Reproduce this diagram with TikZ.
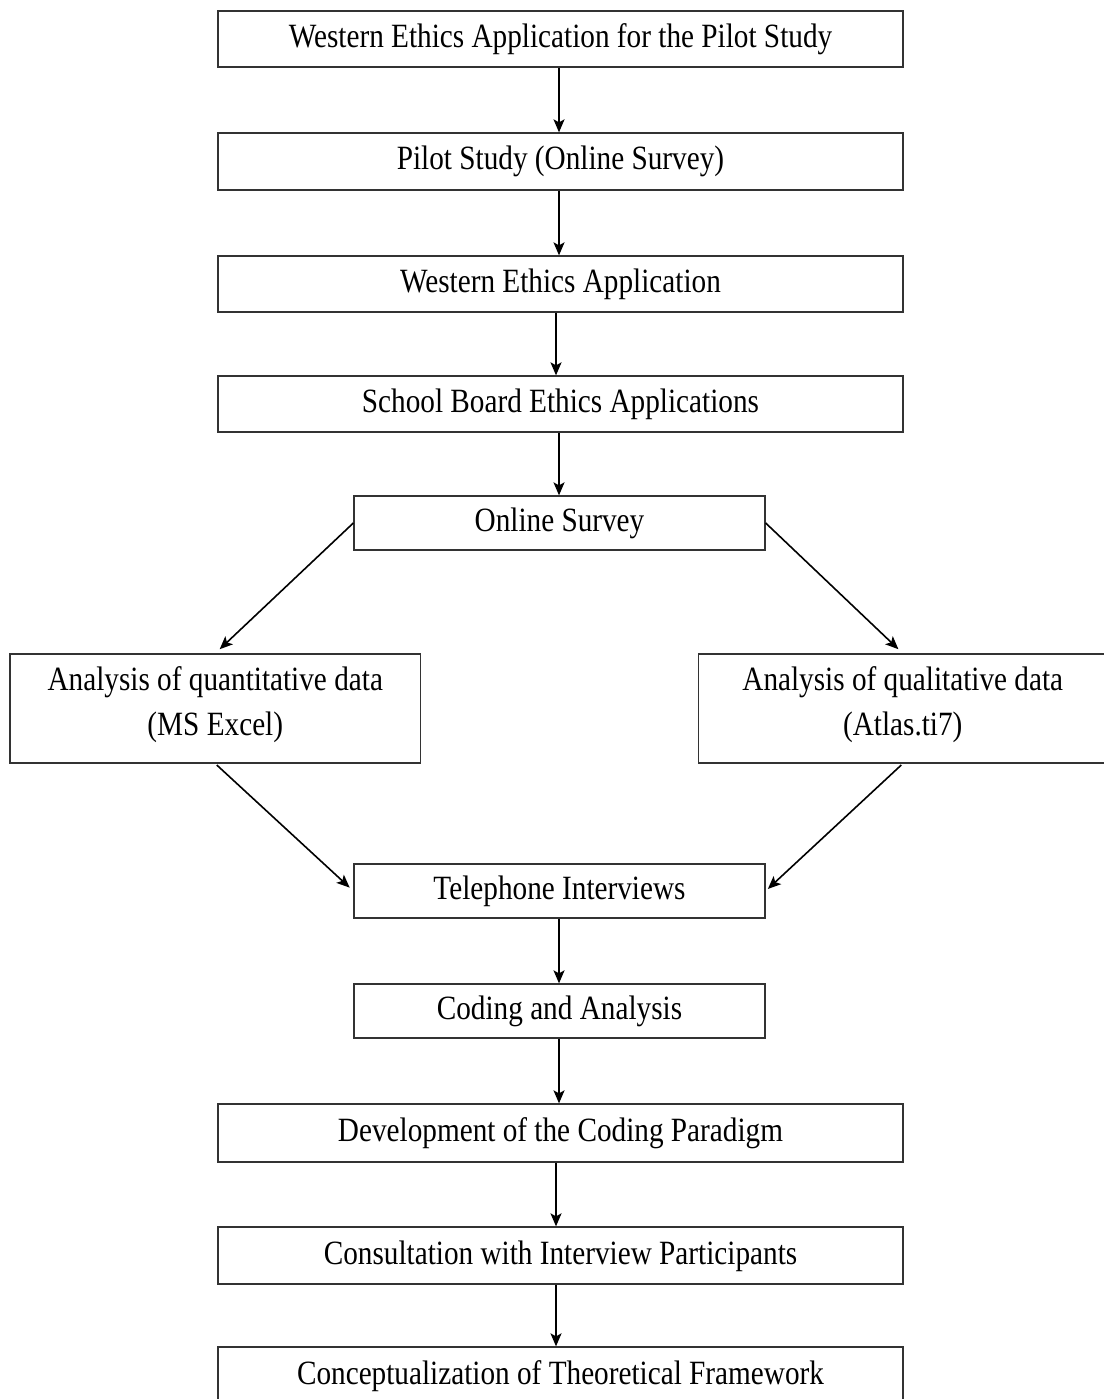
\documentclass[tikz,border=0pt]{standalone}
\usepackage{fontspec}
\setmainfont[FakeStretch=0.86]{Liberation Serif}
\usetikzlibrary{arrows.meta}
\newcommand{\lowstrut}{\rule[-15pt]{0pt}{15pt}}
\begin{document}
\begin{tikzpicture}[x=1pt,y=-1pt,
  basebox/.style={draw=black!80,line width=1.3pt,inner sep=0pt,align=center,
    font=\fontsize{34}{45}\selectfont},
  box/.style={basebox,text height=26pt,text depth=9pt},
  wide/.style={box,minimum width=685pt},
  narrow/.style={box,minimum width=411pt},
  twoline/.style={basebox,minimum height=109pt},
  arr/.style={line width=1.6pt,-{Stealth[length=13pt,width=11pt,inset=3pt]}}]
\useasboundingbox (0,0) rectangle (1103,1399);
\node[wide,minimum height=56pt] (b1) at (560.5,39) {Western Ethics Application for the Pilot Study};
\node[wide,minimum height=57pt] (b2) at (560.5,161.5) {Pilot Study (Online Survey)};
\node[wide,minimum height=56pt] (b3) at (560.5,284) {Western Ethics Application};
\node[wide,minimum height=56pt] (b4) at (560.5,404) {School Board Ethics Applications};
\node[narrow,minimum height=54pt] (os) at (559.5,523) {Online Survey};
\node[twoline,minimum width=410.6pt] (qa) at (215.3,708.5) {Analysis of quantitative data\\(MS Excel)\lowstrut};
\node[twoline,minimum width=408.5pt] (qb) at (902.75,708.5) {Analysis of qualitative data\\(Atlas.ti7)\lowstrut};
\node[narrow,minimum height=54pt] (tel) at (559.5,891) {Telephone Interviews};
\node[narrow,minimum height=54pt] (cod) at (559.5,1011) {Coding and Analysis};
\node[wide,minimum height=58pt] (dev) at (560.5,1133) {Development of the Coding Paradigm};
\node[wide,minimum height=57pt] (con) at (560.5,1255.5) {Consultation with Interview Participants};
\node[wide,minimum height=58pt] (cpt) at (560.5,1376) {Conceptualization of Theoretical Framework};

\draw[arr] ([xshift=-1.5pt]b1.south) -- ([xshift=-1.5pt]b2.north);
\draw[arr] ([xshift=-1.5pt]b2.south) -- ([xshift=-1.5pt]b3.north);
\draw[arr] ([xshift=-4.5pt]b3.south) -- ([xshift=-4.5pt]b4.north);
\draw[arr] ([xshift=-1.5pt]b4.south) -- ([xshift=-0.5pt]os.north);
\draw[arr,shorten >=6pt] (os.west) -- (qa.north);
\draw[arr,shorten >=6pt] (os.east) -- (qb.north);
\draw[arr,shorten <=2pt,shorten >=5pt] (qa.south) -- (tel.west);
\draw[arr,shorten <=2pt,shorten >=3pt] (qb.south) -- (tel.east);
\draw[arr] ([xshift=-0.5pt]tel.south) -- ([xshift=-0.5pt]cod.north);
\draw[arr] ([xshift=-0.5pt]cod.south) -- ([xshift=-1.5pt]dev.north);
\draw[arr] ([xshift=-4.5pt]dev.south) -- ([xshift=-4.5pt]con.north);
\draw[arr] ([xshift=-4.5pt]con.south) -- ([xshift=-4.5pt]cpt.north);
\end{tikzpicture}
\end{document}
